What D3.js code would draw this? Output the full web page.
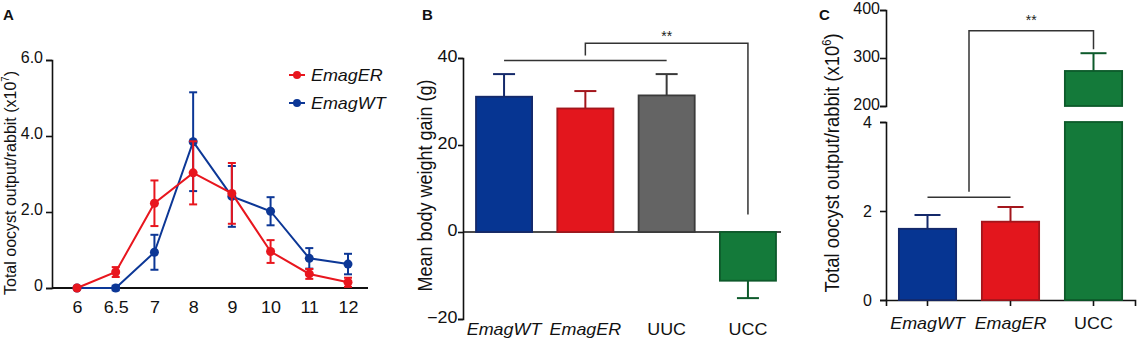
<!DOCTYPE html>
<html lang="en">
<head>
    <meta charset="UTF-8">
    <title>Oocyst output and body weight gain</title>
    <style>
        body { margin: 0; background: #fff; }
        svg { display: block; font-family: "Liberation Sans", Arial, sans-serif; }
        .axis path, .axis line { stroke: #111; stroke-width: 1.6; }
        .axis text { font-size: 16px; fill: #111; }
    </style>
    <script src="https://d3js.org/d3.v7.min.js"></script>
</head>
<body>
<svg id="chart" width="1137" height="340"></svg>
<script>
    // ---- data ----
    // panel A: oocyst output per day post infection (x10^7)
    const daysA = ["6", "6.5", "7", "8", "9", "10", "11", "12"];
    const erMean = [0, 0.42, 2.23, 3.03, 2.49, 0.96, 0.37, 0.15];
    const erErr  = [0.03, 0.13, 0.6, 0.83, 0.8, 0.3, 0.13, 0.12];
    const wtMean = [0, 0, 0.94, 3.85, 2.41, 2.02, 0.78, 0.63];
    const wtErr  = [0, 0.06, 0.46, 1.3, 0.8, 0.37, 0.27, 0.27];
    const ticksA = [0, 2, 4, 6];

    // panel B: mean body weight gain (g)
    const groupsB = ["EmagWT", "EmagER", "UUC", "UCC"];
    const gainB = [31.1, 28.4, 31.4, -11.2];
    const gainErrB = [5.2, 4.0, 4.9, 4.0];
    const ticksB = [-20, 0, 20, 40];

    // panel C: total oocyst output (x10^6), broken axis
    const groupsC = ["EmagWT", "EmagER", "UCC"];
    const oocystC = [1.6, 1.76, 273];
    const oocystErrC = [0.31, 0.33, 37];
    const ticksCLow = [0, 2, 4];
    const ticksCHigh = [200, 300, 400];

    const italicGroups = ["EmagWT", "EmagER"];
    const fill = { EmagWT: "#063592", EmagER: "#e3161d", UUC: "#646464", UCC: "#147a3a" };
    const edge = { EmagWT: "#14296a", EmagER: "#a3161c", UUC: "#3a3a3a", UCC: "#0d5a2b" };
    const lineRed = "#e8161e", lineBlue = "#0c3796";
    const SX = 1.12; // reference text is slightly wide

    const svg = d3.select("#chart");
    svg.append("rect").attr("width", 1137).attr("height", 340).attr("fill", "#fff");

    function stretch(sel) {
        sel.each(function () {
            const t = d3.select(this);
            const old = t.attr("transform") || "";
            t.attr("transform", `scale(${SX},1) ${old}`);
        });
    }
    function panelLabel(txt, x, y) {
        svg.append("text").attr("x", x).attr("y", y).text(txt)
            .attr("font-size", 15).attr("font-weight", "bold").attr("fill", "#111");
    }
    function yTitle(x, y, size, main, sup, tail) {
        const t = svg.append("text")
            .attr("transform", `translate(${x},${y}) scale(1.08,1) rotate(-90)`)
            .attr("text-anchor", "middle").attr("font-size", size).attr("fill", "#111");
        t.append("tspan").text(main);
        if (sup) {
            t.append("tspan").text(sup).attr("font-size", size * 0.6).attr("dy", -size * 0.4);
            t.append("tspan").text(tail).attr("dy", size * 0.4);
        }
    }

    // ================= Panel A =================
    const xA = d3.scalePoint().domain(daysA).range([77, 348]);
    const yA = d3.scaleLinear().domain([0, 6]).range([288, 60]);

    const gyA = svg.append("g").attr("class", "axis").attr("transform", "translate(52,0)")
        .call(d3.axisLeft(yA).tickValues(ticksA).tickSizeOuter(0).tickSize(6).tickPadding(3)
            .tickFormat(d => d === 0 ? "0" : d.toFixed(1)));
    gyA.selectAll("text").attr("dy", "0.15em");

    const gxA = svg.append("g").attr("class", "axis").attr("transform", `translate(0,${yA(0)})`)
        .call(d3.axisBottom(xA).tickSize(0).tickPadding(14));
    gxA.select(".domain").remove();
    gxA.selectAll("text").call(stretch);
    svg.append("line").attr("x1", 52).attr("x2", 368).attr("y1", yA(0)).attr("y2", yA(0))
        .attr("stroke", "#111").attr("stroke-width", 1.8);

    yTitle(16, (yA(0) + yA(6)) / 2 + 9, 16, "Total oocyst output/rabbit (x10", "7", ")");
    panelLabel("A", 3, 20);

    function drawSeries(means, errs, color) {
        const pts = daysA.map((d, i) => ({ d, m: means[i], e: errs[i] }));
        const g = svg.append("g");
        g.append("path").datum(pts)
            .attr("fill", "none").attr("stroke", color).attr("stroke-width", 2)
            .attr("d", d3.line().x(p => xA(p.d)).y(p => yA(p.m)));
        const eb = g.selectAll(".eb").data(pts.filter(p => p.e > 0)).join("g")
            .attr("stroke", color).attr("stroke-width", 2);
        eb.append("line").attr("x1", p => xA(p.d)).attr("x2", p => xA(p.d))
            .attr("y1", p => yA(p.m - p.e)).attr("y2", p => yA(p.m + p.e));
        [1, -1].forEach(s => {
            eb.append("line").attr("x1", p => xA(p.d) - 4).attr("x2", p => xA(p.d) + 4)
                .attr("y1", p => yA(p.m + s * p.e)).attr("y2", p => yA(p.m + s * p.e));
        });
        g.selectAll("circle").data(pts).join("circle")
            .attr("cx", p => xA(p.d)).attr("cy", p => yA(p.m)).attr("r", 4.5).attr("fill", color);
    }
    drawSeries(wtMean, wtErr, lineBlue);
    drawSeries(erMean, erErr, lineRed);

    // legend
    const legend = [{ name: "EmagER", c: lineRed }, { name: "EmagWT", c: lineBlue }];
    legend.forEach((l, i) => {
        const y = 75 + i * 28;
        svg.append("line").attr("x1", 289).attr("x2", 305).attr("y1", y).attr("y2", y)
            .attr("stroke", l.c).attr("stroke-width", 2);
        svg.append("circle").attr("cx", 297).attr("cy", y).attr("r", 4).attr("fill", l.c);
        svg.append("text").attr("transform", `translate(311,${y + 6}) scale(${SX},1)`)
            .attr("font-size", 16).attr("font-style", "italic").attr("fill", "#111").text(l.name);
    });

    // ================= Panel B =================
    const xB = d3.scaleBand().domain(groupsB).range([463, 789]).paddingInner(0.31).paddingOuter(0.16);
    const yB = d3.scaleLinear().domain([-20, 40]).range([319, 58]);

    const gyB = svg.append("g").attr("class", "axis").attr("transform", "translate(463,0)")
        .call(d3.axisLeft(yB).tickValues(ticksB).tickSizeOuter(0).tickSize(5).tickPadding(0));
    gyB.selectAll("text").attr("dy", "0.2em").call(stretch);

    // zero line
    svg.append("line").attr("x1", 463).attr("x2", 781).attr("y1", yB(0)).attr("y2", yB(0))
        .attr("stroke", "#111").attr("stroke-width", 1.6);

    const gxB = svg.append("g").attr("class", "axis").attr("transform", `translate(0,${yB(-20)})`)
        .call(d3.axisBottom(xB).tickSize(0).tickPadding(5));
    gxB.select(".domain").remove();
    gxB.selectAll("text").attr("font-size", 16.5)
        .attr("font-style", d => italicGroups.includes(d) ? "italic" : "normal").call(stretch);

    const barsB = groupsB.map((g, i) => ({ g, v: gainB[i], e: gainErrB[i] }));
    // error bars (one-sided, outward)
    const ebB = svg.append("g").selectAll("g").data(barsB).join("g")
        .attr("stroke", d => edge[d.g]).attr("stroke-width", 2);
    ebB.append("line")
        .attr("x1", d => xB(d.g) + xB.bandwidth() / 2).attr("x2", d => xB(d.g) + xB.bandwidth() / 2)
        .attr("y1", d => yB(d.v)).attr("y2", d => yB(d.v + Math.sign(d.v) * d.e));
    ebB.append("line")
        .attr("x1", d => xB(d.g) + xB.bandwidth() / 2 - 11).attr("x2", d => xB(d.g) + xB.bandwidth() / 2 + 11)
        .attr("y1", d => yB(d.v + Math.sign(d.v) * d.e)).attr("y2", d => yB(d.v + Math.sign(d.v) * d.e));
    svg.append("g").selectAll("rect").data(barsB).join("rect")
        .attr("x", d => xB(d.g)).attr("width", xB.bandwidth())
        .attr("y", d => yB(Math.max(0, d.v))).attr("height", d => Math.abs(yB(d.v) - yB(0)))
        .attr("fill", d => fill[d.g]).attr("stroke", d => edge[d.g]).attr("stroke-width", 1.8);

    // significance B
    const cB = g => xB(g) + xB.bandwidth() / 2;
    const sigB = svg.append("g").attr("fill", "none").attr("stroke", "#333").attr("stroke-width", 1.5);
    sigB.append("line").attr("x1", cB("EmagWT")).attr("x2", cB("UUC")).attr("y1", yB(39.4)).attr("y2", yB(39.4));
    sigB.append("path").attr("d", d3.line()([
        [cB("EmagER"), yB(40.6)], [cB("EmagER"), yB(43.4)], [cB("UCC"), yB(43.4)], [cB("UCC"), yB(4)]
    ]));
    svg.append("text").attr("x", (cB("EmagER") + cB("UCC")) / 2).attr("y", 41)
        .attr("text-anchor", "middle").attr("font-size", 14).attr("fill", "#222").text("**");

    yTitle(432, (yB(-20) + yB(40)) / 2 - 3, 18, "Mean body weight gain (g)");
    panelLabel("B", 422, 20);

    // ================= Panel C =================
    const xC = d3.scaleBand().domain(groupsC).range([886, 1135]).paddingInner(0.31).paddingOuter(0.155);
    const yCLow = d3.scaleLinear().domain([0, 4]).range([300, 122]);
    const yCHigh = d3.scaleLinear().domain([200, 400]).range([106, 10]);

    const gyC1 = svg.append("g").attr("class", "axis").attr("transform", "translate(886,0)")
        .call(d3.axisLeft(yCLow).tickValues(ticksCLow).tickFormat(d3.format("d"))
            .tickSizeOuter(0).tickSize(6).tickPadding(8));
    const gyC2 = svg.append("g").attr("class", "axis").attr("transform", "translate(886,0)")
        .call(d3.axisLeft(yCHigh).tickValues(ticksCHigh).tickFormat(d3.format("d"))
            .tickSizeOuter(0).tickSize(6).tickPadding(0));
    gyC1.selectAll("text").attr("dy", "0.35em");
    gyC2.selectAll("text").attr("dy", "0.2em");

    const gxC = svg.append("g").attr("class", "axis").attr("transform", `translate(0,${yCLow(0)})`)
        .call(d3.axisBottom(xC).tickSizeOuter(0).tickSize(6).tickPadding(12));
    gxC.selectAll("text").attr("font-size", 16.5)
        .attr("font-style", d => italicGroups.includes(d) ? "italic" : "normal").call(stretch);

    const barsC = groupsC.map((g, i) => ({ g, v: oocystC[i], e: oocystErrC[i] }));
    const cC = g => xC(g) + xC.bandwidth() / 2;
    const yOf = v => v > 4 ? yCHigh(v) : yCLow(v);

    const ebC = svg.append("g").selectAll("g").data(barsC).join("g")
        .attr("stroke", d => edge[d.g]).attr("stroke-width", 2);
    ebC.append("line").attr("x1", d => cC(d.g)).attr("x2", d => cC(d.g))
        .attr("y1", d => yOf(d.v)).attr("y2", d => yOf(d.v + d.e));
    ebC.append("line").attr("x1", d => cC(d.g) - 13).attr("x2", d => cC(d.g) + 13)
        .attr("y1", d => yOf(d.v + d.e)).attr("y2", d => yOf(d.v + d.e));

    const barC = svg.append("g");
    // lower segment (clipped at the break)
    barC.selectAll(".lo").data(barsC).join("rect").attr("class", "lo")
        .attr("x", d => xC(d.g)).attr("width", xC.bandwidth())
        .attr("y", d => yCLow(Math.min(d.v, 4))).attr("height", d => yCLow(0) - yCLow(Math.min(d.v, 4)))
        .attr("fill", d => fill[d.g]).attr("stroke", d => edge[d.g]).attr("stroke-width", 1.8);
    // upper segment for values past the break
    barC.selectAll(".hi").data(barsC.filter(d => d.v > 200)).join("rect").attr("class", "hi")
        .attr("x", d => xC(d.g)).attr("width", xC.bandwidth())
        .attr("y", d => yCHigh(d.v)).attr("height", d => yCHigh(200) - yCHigh(d.v))
        .attr("fill", d => fill[d.g]).attr("stroke", d => edge[d.g]).attr("stroke-width", 1.8);

    // significance C
    const sigC = svg.append("g").attr("fill", "none").attr("stroke", "#333").attr("stroke-width", 1.5);
    sigC.append("line").attr("x1", cC("EmagWT")).attr("x2", cC("EmagER"))
        .attr("y1", yCLow(2.31)).attr("y2", yCLow(2.31));
    const midC = (cC("EmagWT") + cC("EmagER")) / 2;
    sigC.append("path").attr("d", d3.line()([
        [midC, yCLow(2.43)], [midC, yCHigh(357)], [cC("UCC"), yCHigh(357)], [cC("UCC"), yCHigh(318)]
    ]));
    svg.append("text").attr("x", (midC + cC("UCC")) / 2).attr("y", 25)
        .attr("text-anchor", "middle").attr("font-size", 14).attr("fill", "#222").text("**");

    yTitle(839, 163, 18.5, "Total oocyst output/rabbit (x10", "6", ")");
    panelLabel("C", 819, 20);
</script>
</body>
</html>
